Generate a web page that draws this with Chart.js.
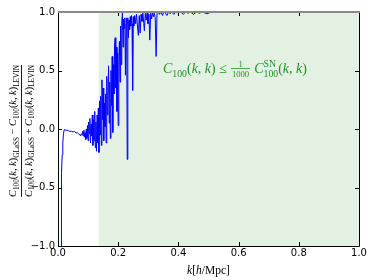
<!DOCTYPE html>
<html>
<head>
<meta charset="utf-8">
<script src="https://cdn.jsdelivr.net/npm/chart.js@4.4.1/dist/chart.umd.min.js"></script>
<style>
  html, body { margin: 0; padding: 0; background: #fff; }
</style>
</head>
<body>
<canvas id="ratio-chart" width="374" height="280"></canvas>
<script>
// 数据: k [h/Mpc] 与相对差
const kValues = [
  0.010, 0.011, 0.012, 0.014, 0.016, 0.018, 0.020, 0.022, 0.025, 0.030,
  0.035, 0.040, 0.045, 0.050, 0.055, 0.060, 0.064, 0.068, 0.072, 0.075,
  0.078, 0.080, 0.082, 0.084, 0.086, 0.088, 0.090, 0.092, 0.094, 0.096,
  0.098, 0.100, 0.102, 0.104, 0.106, 0.108, 0.110, 0.112, 0.114, 0.116,
  0.118, 0.120, 0.122, 0.124, 0.126, 0.128, 0.130, 0.132, 0.134, 0.136,
  0.138, 0.140, 0.142, 0.144, 0.146, 0.148, 0.150, 0.152, 0.154, 0.156,
  0.158, 0.160, 0.162, 0.164, 0.166, 0.168, 0.170, 0.172, 0.174, 0.176,
  0.178, 0.180, 0.182, 0.184, 0.186, 0.188, 0.190, 0.192, 0.194, 0.196,
  0.198, 0.200, 0.202, 0.204, 0.206, 0.208, 0.210, 0.212, 0.214, 0.216,
  0.218, 0.220, 0.222, 0.224, 0.226, 0.228, 0.230, 0.232, 0.234, 0.236,
  0.238, 0.240, 0.242, 0.244, 0.246, 0.248, 0.250, 0.252, 0.255, 0.258,
  0.261, 0.264, 0.267, 0.270, 0.273, 0.276, 0.279, 0.282, 0.285, 0.287,
  0.290, 0.293, 0.296, 0.299, 0.302, 0.305, 0.308, 0.311, 0.314, 0.317,
  0.320, 0.323, 0.326, 0.329, 0.333, 0.337, 0.342, 0.347, 0.352, 0.357,
  0.362, 0.367, 0.372, 0.378, 0.385, 0.392, 0.400, 0.408, 0.416, 0.424,
  0.432, 0.440, 0.450, 0.460, 0.470, 0.480, 0.495, 0.510, 0.530, 0.550,
  0.600, 0.700, 0.800, 0.900, 1.000
];
const ratioValues = [
  -1.00, -0.62, -0.38, -0.22, -0.12, -0.05, -0.01, -0.005, -0.01, -0.01,
  -0.015, -0.02, -0.02, -0.025, -0.02, -0.035, -0.03, -0.04, -0.045, -0.06,
  -0.04, -0.05, -0.02, -0.06, -0.01, -0.07, -0.03, -0.09, 0.00, -0.08,
  0.03, -0.10, 0.06, -0.04, 0.09, -0.12, 0.04, -0.06, 0.12, -0.14,
  0.08, -0.10, 0.15, -0.16, 0.06, -0.19, 0.12, -0.12, 0.18, -0.20,
  0.24, -0.05, 0.28, -0.14, 0.42, 0.08, 0.35, -0.10, 0.22, 0.02,
  0.30, -0.12, 0.45, 0.12, 0.30, 0.54, 0.05, 0.40, -0.08, 0.50,
  0.20, 0.62, -0.03, 0.55, 0.30, 0.72, 0.78, 0.35, 0.70, 0.15,
  0.65, 0.03, 0.60, 0.75, 0.40, 0.88, 0.55, 0.92, 0.99, 0.70,
  0.94, 0.86, 0.95, 0.46, 0.90, 0.95, -0.26, 0.95, 0.78, 0.93,
  0.85, 0.96, 0.88, 0.97, 0.90, 0.33, 0.96, 0.88, 0.97, 0.90,
  0.98, 0.88, 0.80, 0.97, 0.82, 0.98, 0.92, 0.99, 0.90, 0.84,
  0.99, 0.93, 0.99, 0.90, 0.98, 0.76, 0.99, 0.94, 1.00, 0.96,
  0.99, 0.95, 0.62, 0.99, 1.00, 0.98, 1.00, 0.97, 1.00, 0.99,
  0.97, 1.00, 0.985, 1.00, 0.98, 1.00, 0.99, 1.00, 0.98, 1.00,
  0.99, 1.00, 0.98, 1.00, 0.99, 1.00, 0.985, 1.00, 0.995, 1.00,
  1.00, 1.00, 1.00, 1.00, 1.00
];
const xTickValues = [0.0, 0.2, 0.4, 0.6, 0.8, 1.0];
const yTickValues = [-1.0, -0.5, 0.0, 0.5, 1.0];
const shadeRange = [0.135, 1.0];

const fmt = v => v.toFixed(1).replace('-', '\u2212');
const serif = '"Liberation Serif", "DejaVu Serif", serif';
const green = '#1f9124';

// 富文本: 斜体 / 下标 / 上标 / 分数
function richWidth(ctx, parts, size) {
  let w = 0;
  parts.forEach(p => {
    if (p.frac) {
      ctx.font = (size * 0.62) + 'px ' + serif;
      w += Math.max(ctx.measureText(p.frac[0]).width, ctx.measureText(p.frac[1]).width) + 3;
      return;
    }
    const s = p.lv ? size * 0.7 : size;
    ctx.font = (p.it ? 'italic ' : '') + s + 'px ' + serif;
    w += ctx.measureText(p.t).width;
  });
  return w;
}

function drawRich(ctx, parts, x, y, size) {
  let cx = x;
  parts.forEach(p => {
    if (p.frac) {
      ctx.font = (size * 0.62) + 'px ' + serif;
      const fw = Math.max(ctx.measureText(p.frac[0]).width, ctx.measureText(p.frac[1]).width) + 3;
      ctx.textAlign = 'center';
      ctx.fillText(p.frac[0], cx + fw / 2, y - size * 0.42);
      ctx.fillText(p.frac[1], cx + fw / 2, y + size * 0.28);
      ctx.fillRect(cx + 0.5, y - size * 0.34, fw - 1, 0.8);
      ctx.textAlign = 'left';
      cx += fw;
      return;
    }
    const s = p.lv ? size * 0.7 : size;
    ctx.font = (p.it ? 'italic ' : '') + s + 'px ' + serif;
    const dy = p.lv < 0 ? size * 0.28 : (p.lv > 0 ? -size * 0.42 : 0);
    // 同时有上下标
    if (p.sup) {
      const w1 = ctx.measureText(p.t).width;
      const w2 = ctx.measureText(p.sup).width;
      ctx.fillText(p.sup, cx, y - size * 0.42);
      ctx.fillText(p.t, cx, y + size * 0.28);
      cx += Math.max(w1, w2);
      return;
    }
    ctx.fillText(p.t, cx, y + dy);
    cx += ctx.measureText(p.t).width;
  });
}

function ckk(sub) {
  return [
    { t: 'C', it: true }, { t: '100', lv: -1 }, { t: '(' }, { t: 'k', it: true },
    { t: ', ' }, { t: 'k', it: true }, { t: ')' }, { t: sub, lv: -1 }
  ];
}
const numerParts = ckk('GLaSS').concat([{ t: ' \u2212 ' }], ckk('LEVIN'));
const denomParts = ckk('GLaSS').concat([{ t: ' + ' }], ckk('LEVIN'));
const notePart = [
  { t: 'C', it: true }, { t: '100', lv: -1 }, { t: '(' }, { t: 'k', it: true }, { t: ', ' },
  { t: 'k', it: true }, { t: ')' }, { t: ' \u2264 ' }, { frac: ['1', '1000'] }, { t: ' ' },
  { t: 'C', it: true }, { t: '100', lv: -1, sup: 'SN' }, { t: '(' }, { t: 'k', it: true },
  { t: ', ' }, { t: 'k', it: true }, { t: ')' }
];
const xTitleParts = [
  { t: 'k', it: true }, { t: '[' }, { t: 'h', it: true }, { t: '/Mpc]' }
];

const decorPlugin = {
  id: 'decor',
  beforeDatasetsDraw(chart) {
    const { ctx, chartArea: a, scales: { x } } = chart;
    const x0 = x.getPixelForValue(shadeRange[0]);
    const x1 = x.getPixelForValue(shadeRange[1]);
    ctx.save();
    ctx.fillStyle = 'rgba(0, 128, 0, 0.11)';
    ctx.fillRect(x0, a.top, x1 - x0, a.bottom - a.top);
    ctx.restore();
  },
  afterDraw(chart) {
    const { ctx, chartArea: a, scales: { x, y } } = chart;
    ctx.save();
    // 刻度线 (朝内)
    ctx.strokeStyle = '#000';
    ctx.lineWidth = 1;
    ctx.beginPath();
    xTickValues.forEach(v => {
      const px = Math.round(x.getPixelForValue(v)) + 0.5;
      ctx.moveTo(px, a.bottom); ctx.lineTo(px, a.bottom - 4);
      ctx.moveTo(px, a.top); ctx.lineTo(px, a.top + 4);
    });
    yTickValues.forEach(v => {
      const py = Math.round(y.getPixelForValue(v)) + 0.5;
      ctx.moveTo(a.left, py); ctx.lineTo(a.left + 4, py);
      ctx.moveTo(a.right, py); ctx.lineTo(a.right - 4, py);
    });
    ctx.stroke();
    // 边框
    ctx.beginPath();
    ctx.moveTo(a.left + 0.5, a.top); ctx.lineTo(a.left + 0.5, a.bottom + 0.5);
    ctx.lineTo(a.right + 0.5, a.bottom + 0.5); ctx.lineTo(a.right + 0.5, a.top);
    ctx.stroke();
    ctx.strokeStyle = '#8a8a8a';
    ctx.lineWidth = 2;
    ctx.beginPath();
    ctx.moveTo(a.left, a.top); ctx.lineTo(a.right + 1, a.top);
    ctx.stroke();

    ctx.textBaseline = 'alphabetic';
    ctx.textAlign = 'left';
    ctx.fillStyle = '#000';

    // x 轴标题
    let size = 11.5;
    let w = richWidth(ctx, xTitleParts, size);
    drawRich(ctx, xTitleParts, (a.left + a.right) / 2 - w / 2, 274, size);

    // y 轴标题 (分数)
    const cy = 131, barX = 21.5;
    size = 10;
    w = richWidth(ctx, numerParts, size);
    size = size * 132 / w;
    w = richWidth(ctx, numerParts, size);
    const wd = richWidth(ctx, denomParts, size);
    ctx.save();
    ctx.translate(barX, cy);
    ctx.rotate(-Math.PI / 2);
    drawRich(ctx, numerParts, -w / 2, -5.5, size);
    drawRich(ctx, denomParts, -wd / 2, 10, size);
    ctx.fillRect(-Math.max(w, wd) / 2, -0.5, Math.max(w, wd), 0.9);
    ctx.restore();

    // 注释
    ctx.fillStyle = green;
    size = 14;
    w = richWidth(ctx, notePart, size);
    size = size * 144 / w;
    drawRich(ctx, notePart, 163, 73, size);
    ctx.restore();
  }
};

const ctx = document.getElementById('ratio-chart').getContext('2d');
const ratioChart = new Chart(ctx, {
  type: 'line',
  data: {
    datasets: [{
      data: kValues.map((k, i) => ({ x: k, y: ratioValues[i] })),
      borderColor: '#0000ff',
      borderWidth: 1,
      pointRadius: 0,
      tension: 0,
      fill: false
    }]
  },
  options: {
    responsive: false,
    animation: false,
    devicePixelRatio: 1,
    layout: { padding: { left: 0, top: 12, right: 15, bottom: 0 } },
    plugins: { legend: { display: false }, tooltip: { enabled: false } },
    scales: {
      x: {
        type: 'linear',
        min: 0, max: 1,
        afterBuildTicks: s => { s.ticks = xTickValues.map(v => ({ value: v })); },
        afterFit: s => { s.height = 34; },
        grid: { display: false, drawTicks: false },
        border: { display: false },
        ticks: {
          padding: 1,
          color: '#000',
          font: { family: '"DejaVu Sans"', size: 10 },
          maxRotation: 0,
          callback: v => fmt(v)
        }
      },
      y: {
        type: 'linear',
        min: -1, max: 1,
        afterBuildTicks: s => { s.ticks = yTickValues.map(v => ({ value: v })); },
        afterFit: s => { s.width = 58; },
        grid: { display: false, drawTicks: false },
        border: { display: false },
        ticks: {
          padding: 3,
          color: '#000',
          font: { family: '"DejaVu Sans"', size: 10 },
          callback: v => fmt(v)
        }
      }
    }
  },
  plugins: [decorPlugin]
});
</script>
</body>
</html>
